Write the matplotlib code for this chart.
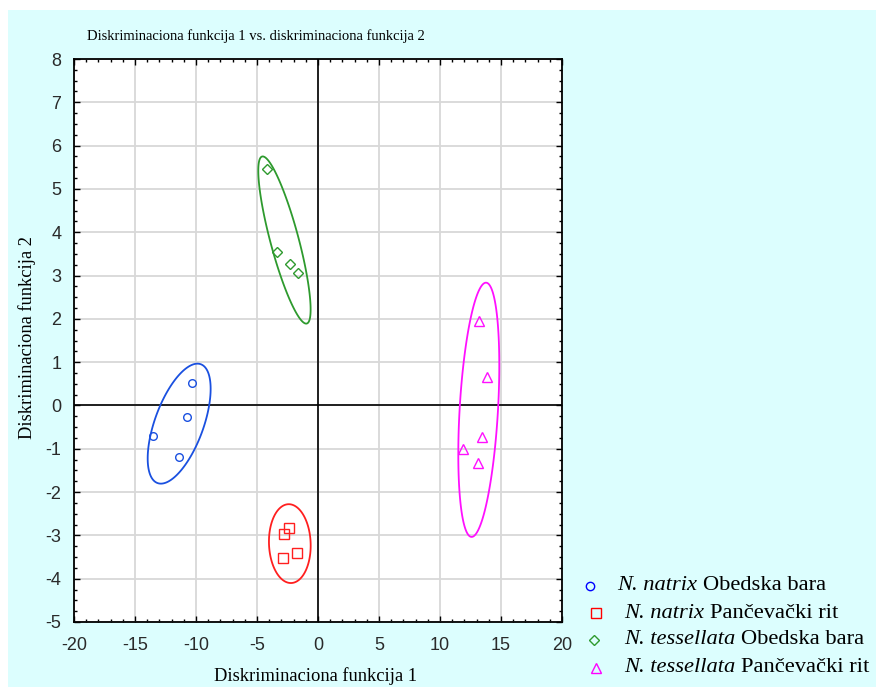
import numpy as np
import matplotlib
matplotlib.use("Agg")
import matplotlib.pyplot as plt
from matplotlib.patches import Rectangle, Polygon

plt.rcParams["axes.unicode_minus"] = False

# points
natrix_ob_x = [-10.30, -10.76, -13.50, -11.37]
natrix_ob_y = [0.51, -0.27, -0.71, -1.20]
natrix_pr_x = [-2.40, -2.76, -1.70, -2.87]
natrix_pr_y = [-2.82, -2.96, -3.40, -3.53]
tess_ob_x = [-4.16, -3.34, -2.27, -1.61]
tess_ob_y = [5.46, 3.54, 3.27, 3.06]
tess_pr_x = [13.22, 13.85, 13.47, 11.91, 13.14]
tess_pr_y = [1.94, 0.66, -0.73, -1.01, -1.34]

# ellipses: centre, half extent in x and y, correlation
ell_cx = [-11.38, -2.31, -2.75, 13.18]
ell_cy = [-0.42, -3.19, 3.82, -0.10]
ell_ax = [2.58, 1.71, 2.145, 1.68]
ell_by = [1.385, 0.91, 1.93, 2.935]
ell_r = [0.58, -0.05, -0.83, 0.35]

species = ["N. natrix", "N. natrix", "N. tessellata", "N. tessellata"]
sites = ["Obedska bara", "Pančevački rit", "Obedska bara", "Pančevački rit"]

xs = [natrix_ob_x, natrix_pr_x, tess_ob_x, tess_pr_x]
ys = [natrix_ob_y, natrix_pr_y, tess_ob_y, tess_pr_y]
markers = ["o", "s", "D", "^"]
msizes = [5.5, 6.5, 5.0, 6.5]
colors = ["#1a50e0", "#ff1f1f", "#2e9a2e", "#ff10ff"]
leg_colors = ["#0000ff", "#ff0000", "#2e9a2e", "#ff00ff"]

W, H = 876, 687
fig = plt.figure(figsize=(W / 100, H / 100), dpi=100)
fig.patch.set_facecolor("white")
fig.add_artist(Rectangle((8 / W, 0), 1, 1 - 10 / H, transform=fig.transFigure,
                         facecolor="#dcfefe", edgecolor="none", zorder=-10))

ax = fig.add_axes([74 / W, 1 - 622 / H, (562 - 74) / W, (622 - 59) / H])
ax.set_facecolor("white")
ax.set_xlim(-20, 20)
ax.set_ylim(-5, 8)
ax.set_xticks(np.arange(-20, 21, 5))
ax.set_yticks(np.arange(-5, 9, 1))
ax.set_xticks(np.arange(-20, 21, 1), minor=True)
ax.set_yticks(np.arange(-5, 8.01, 0.25), minor=True)
ax.grid(True, which="major", color="#d8d8d8", lw=1.3)
ax.set_axisbelow(True)
ax.axhline(0, color="black", lw=1.2, zorder=1.5)
ax.axvline(0, color="black", lw=1.2, zorder=1.5)
for sp in ax.spines.values():
    sp.set_linewidth(1.3)
ax.tick_params(which="both", direction="in", top=True, right=True, width=1,
               labelsize=13, labelcolor="#2a2a2a")
ax.tick_params(which="major", length=4)
ax.tick_params(which="minor", length=2.5)
ax.tick_params(axis="x", pad=11)
ax.tick_params(axis="y", pad=9)
for lab in ax.get_xticklabels() + ax.get_yticklabels():
    lab.set_fontfamily("Liberation Sans")

t = np.linspace(0, 2 * np.pi, 300, endpoint=False)
for i in range(4):
    ex = ell_cx[i] + ell_ax[i] * np.cos(t)
    ey = ell_cy[i] + ell_by[i] * (ell_r[i] * np.cos(t) + np.sqrt(1 - ell_r[i] ** 2) * np.sin(t))
    ax.add_patch(Polygon(np.column_stack([ex, ey]), closed=True, fill=False,
                         edgecolor=colors[i], lw=1.3, zorder=3))
    ax.plot(xs[i], ys[i], linestyle="none", marker=markers[i], ms=msizes[i],
            mfc="none", mec=colors[i], mew=1.0, zorder=4)

serif = "Liberation Serif"
fig.text(87 / W, 1 - 36 / H, "Diskriminaciona funkcija 1 vs. diskriminaciona funkcija 2",
         family=serif, fontsize=10.5, va="center", ha="left")
fig.text(316 / W, 1 - 676 / H, "Diskriminaciona funkcija 1",
         family=serif, fontsize=13.3, va="center", ha="center")
fig.text(27 / W, 1 - 338 / H, "Diskriminaciona funkcija 2",
         family=serif, fontsize=13.3, va="center", ha="center", rotation=90)

# legend drawn by hand, laid out like the original
lax = fig.add_axes([0, 0, 1, 1])
lax.set_xlim(0, W)
lax.set_ylim(H, 0)
lax.axis("off")
leg_y = [586, 613, 640, 668]
leg_mx = [590, 596, 594, 596]
leg_tx = [617, 624, 624, 624]
fig.canvas.draw()
renderer = fig.canvas.get_renderer()
for i in range(4):
    lax.plot([leg_mx[i]], [leg_y[i]], linestyle="none", marker=markers[i], ms=msizes[i] + 0.5,
             mfc="none", mec=leg_colors[i], mew=1.0)
    it = lax.text(leg_tx[i], leg_y[i], species[i], family=serif, style="italic",
                  fontsize=16.2, va="center", ha="left")
    bb = it.get_window_extent(renderer=renderer)
    x_end = bb.x1 + 6
    lax.text(x_end, leg_y[i], sites[i], family=serif, fontsize=16.2, va="center", ha="left")

fig.savefig("out.png", dpi=100)
